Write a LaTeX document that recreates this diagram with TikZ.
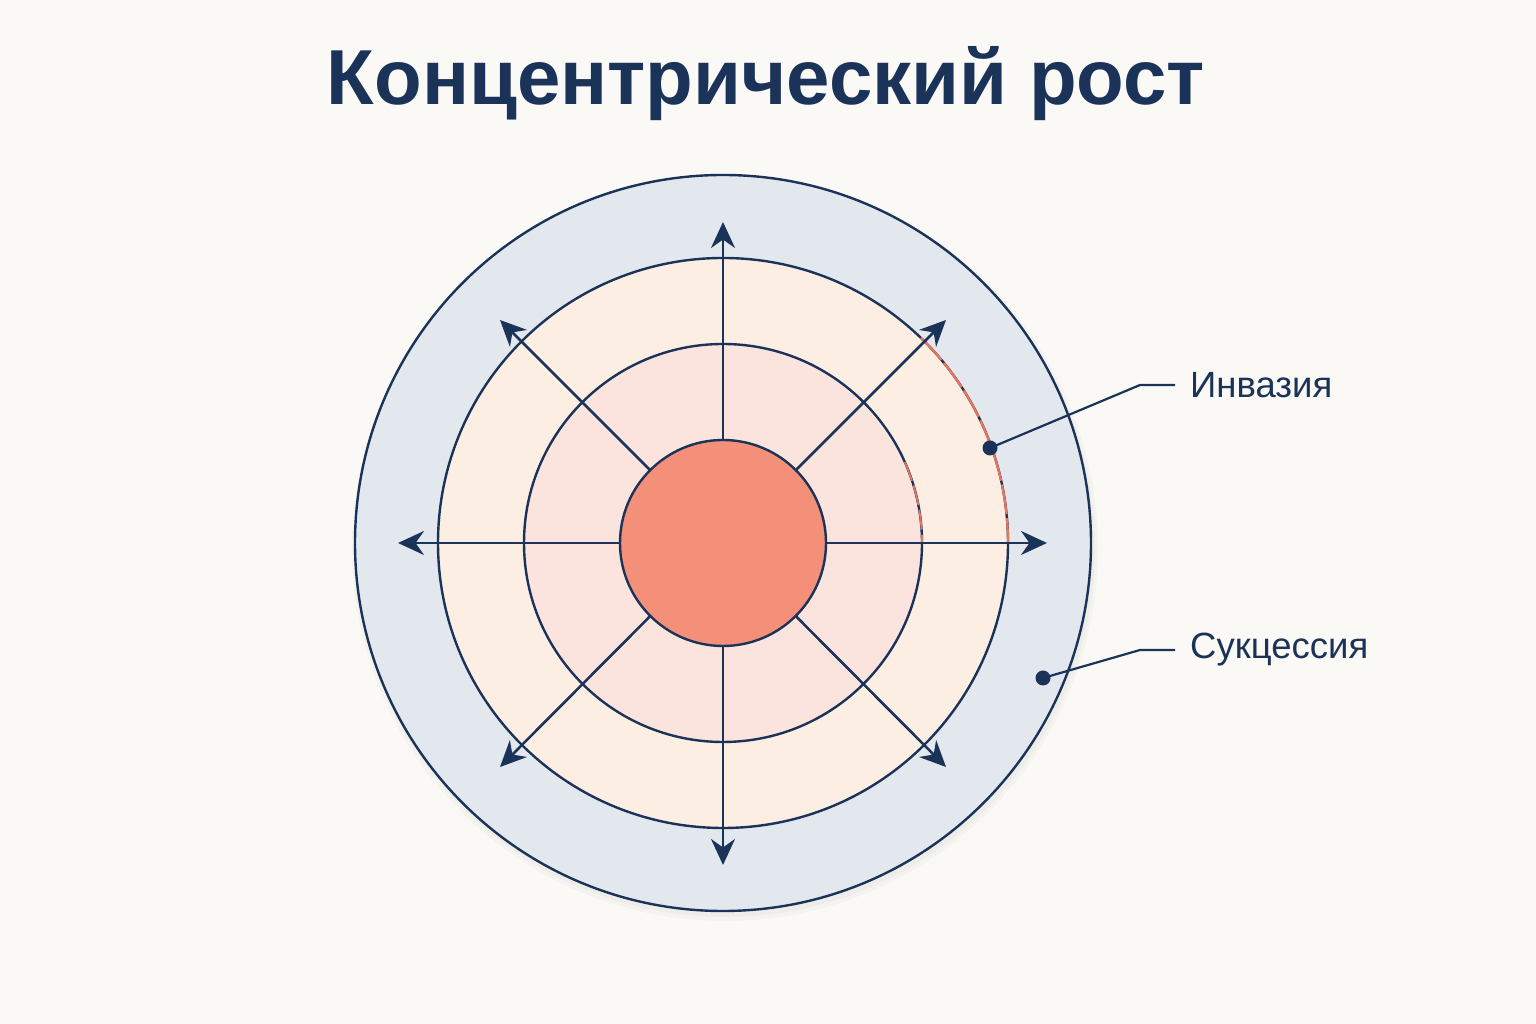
\documentclass[tikz,border=0pt]{standalone}
\usepackage{fontspec}
\setmainfont{Liberation Sans}
\usetikzlibrary{arrows.meta,calc}
\definecolor{navy}{HTML}{1B3358}
\definecolor{paper}{HTML}{FAF9F6}
\definecolor{ringout}{HTML}{E3E8EE}
\definecolor{ringmid}{HTML}{FCEEE3}
\definecolor{ringin}{HTML}{FBE4DD}
\definecolor{core}{HTML}{F4907A}
\definecolor{rim}{HTML}{E8765E}
\tikzset{
  ring/.style={draw=navy, line width=2.4pt},
  growarrow/.style={draw=navy, line width=2.6pt, -{Stealth[length=26pt,width=24pt]}},
  callout/.style={draw=navy, line width=2.2pt},
  zonelabel/.style={text=navy, font=\fontsize{36.5}{40}\selectfont, anchor=west, inner sep=0pt},
}
\begin{document}
\begin{tikzpicture}[x=1pt,y=1pt]
\useasboundingbox (0,0) rectangle (1536,1024);
\fill[paper] (0,0) rectangle (1536,1024);
\coordinate (C) at (723,481);
% rings
\fill[black, opacity=0.025] (725,476) circle (373);
\fill[black, opacity=0.025] (725,477) circle (370);
\filldraw[ring, fill=ringout] (C) circle (368);
\filldraw[ring, fill=ringmid] (C) circle (285);
\filldraw[ring, fill=ringin] (C) circle (199);
\draw[rim, line width=2.2pt, dash pattern=on 30pt off 4pt] ($(C)+(46:285)$) arc (46:0:285);
\draw[rim, line width=1.8pt, dash pattern=on 20pt off 5pt] ($(C)+(24:199)$) arc (24:0:199);
% arrows
\coordinate (N) at (723,802);
\coordinate (S) at (723,159);
\coordinate (W) at (398,481);
\coordinate (E) at (1047,481);
\coordinate (NW) at (500,704);
\coordinate (NE) at (946,704);
\coordinate (SW) at (500,257);
\coordinate (SE) at (946,257);
\draw[growarrow] (C) -- (N);
\draw[growarrow] (C) -- (S);
\draw[growarrow] (C) -- (W);
\draw[growarrow] (C) -- (E);
\draw[growarrow] (C) -- (NW);
\draw[growarrow] (C) -- (NE);
\draw[growarrow] (C) -- (SW);
\draw[growarrow] (C) -- (SE);
\filldraw[ring, fill=core] (C) circle (103);
% title
\node[text=navy, font=\fontsize{78}{82}\selectfont\bfseries] (title) at (766,940) {Концентрический рост};
% callouts
\node[zonelabel] (inv) at (1190,639) {Инвазия};
\node[zonelabel] (suc) at (1190,374) {Сукцессия};
\coordinate (dotI) at (990,576);
\coordinate (dotS) at (1043,346);
\coordinate (kneeI) at (1140,639);
\coordinate (kneeS) at (1140,374);
\draw[callout] (dotI) -- (kneeI) -- ([xshift=-15pt]inv.west);
\draw[callout] (dotS) -- (kneeS) -- ([xshift=-15pt]suc.west);
\fill[navy] (dotI) circle (7.5);
\fill[navy] (dotS) circle (7.5);
\end{tikzpicture}
\end{document}
